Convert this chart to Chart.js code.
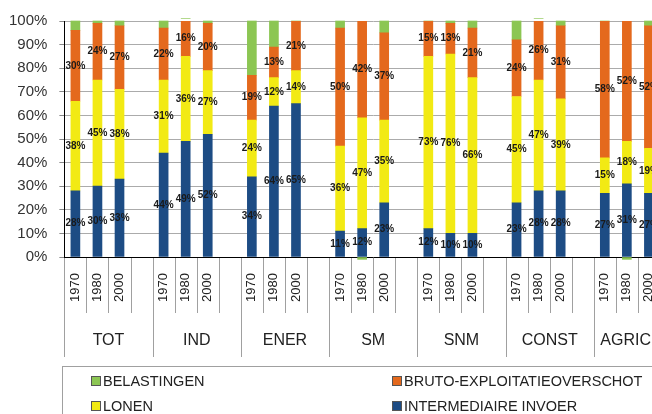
<!DOCTYPE html>
<html>
<head>
<meta charset="utf-8">
<script src="https://cdn.jsdelivr.net/npm/chart.js@4.4.1/dist/chart.umd.min.js"></script>
<style>
  html, body { margin: 0; padding: 0; background: #fff; width: 652px; height: 414px; overflow: hidden; }
  #wrap { position: relative; width: 700px; height: 414px; }
  #c { position: absolute; left: 0; top: 0; }
  #legend { position: absolute; left: 62px; top: 366px; width: 700px; height: 60px;
            border-top: 1px solid #a0a0a0; border-left: 1px solid #a0a0a0; box-sizing: border-box;
            font-family: 'Liberation Sans', Arial, sans-serif; font-size: 14.5px; color: #222; }
  .item { position: absolute; white-space: nowrap; line-height: 16px; }
  .sw { position: absolute; width: 8px; height: 8px; top: 3px; left: 0; border: 1px solid #555; }
  .lt { position: absolute; left: 12px; top: 0; }
</style>
</head>
<body>
<div id="wrap">
  <canvas id="c" width="700" height="414"></canvas>
  <div id="legend"></div>
</div>
<script>
// ---- data ----
const groups = ['TOT', 'IND', 'ENER', 'SM', 'SNM', 'CONST', 'AGRIC'];
const years = ['1970', '1980', '2000'];
// values per group, per year (group-major order), in %
const intermediaireInvoer = [28, 30, 33,  44, 49, 52,  34, 64, 65,  11, 12, 23,  12, 10, 10,  23, 28, 28,  27, 31, 27];
const lonen               = [38, 45, 38,  31, 36, 27,  24, 12, 14,  36, 47, 35,  73, 76, 66,  45, 47, 39,  15, 18, 19];
const brutoExploitatie    = [30, 24, 27,  22, 16, 20,  19, 13, 21,  50, 42, 37,  15, 13, 21,  24, 26, 31,  58, 52, 52];
const belastingen         = [ 4,  1,  2,   3,  0,  1,  23, 11,  0,   3, -1,  5,   0,  1,  3,   8,  0,  2,   0, -1,  2];
const yTicks = [0, 10, 20, 30, 40, 50, 60, 70, 80, 90, 100];

// build 4 slots per group (3 years + an empty slot)
const slotLabels = [];
groups.forEach(() => { years.forEach(y => slotLabels.push(y)); slotLabels.push(''); });
function toSlots(arr) {
  const out = [];
  groups.forEach((g, gi) => {
    years.forEach((y, yi) => out.push(arr[gi * 3 + yi]));
    out.push(null);
  });
  return out;
}

const FONT = "'Liberation Sans', Arial, sans-serif";
const VIEW_W = 652;
const series = [
  { label: 'INTERMEDIAIRE INVOER', data: intermediaireInvoer, color: '#1d4c84', showLabel: true },
  { label: 'LONEN', data: lonen, color: '#f2ea14', showLabel: true },
  { label: 'BRUTO-EXPLOITATIEOVERSCHOT', data: brutoExploitatie, color: '#e4691d', showLabel: true },
  { label: 'BELASTINGEN', data: belastingen, color: '#8cc653', showLabel: false }
];

const datasets = series.map(s => ({
  label: s.label,
  data: toSlots(s.data),
  backgroundColor: s.color,
  borderWidth: 0,
  barThickness: 9,
  clip: s.showLabel ? undefined : false,
  _showLabel: s.showLabel
}));

const xDecor = {
  id: 'xDecor',
  afterDraw(chart) {
    const ctx = chart.ctx;
    const xs = chart.scales.x;
    const base = chart.chartArea.bottom;
    ctx.save();
    // slot boundary lines
    ctx.strokeStyle = '#a0a0a0';
    ctx.lineWidth = 1;
    for (let i = 0; i <= slotLabels.length; i++) {
      const x = Math.round(xs.getPixelForValue(i - 0.5)) + 0.5;
      const len = (i % 4 === 0) ? 100 : 56;
      ctx.beginPath();
      ctx.moveTo(x, base + 1);
      ctx.lineTo(x, base + len);
      ctx.stroke();
    }
    // year labels (rotated)
    ctx.fillStyle = '#222';
    ctx.font = '13px ' + FONT;
    ctx.textAlign = 'right';
    ctx.textBaseline = 'middle';
    slotLabels.forEach((lab, i) => {
      if (!lab) return;
      const x = xs.getPixelForValue(i);
      ctx.save();
      ctx.translate(x, base + 16);
      ctx.rotate(-Math.PI / 2);
      ctx.fillText(lab, 0, 0);
      ctx.restore();
    });
    // group labels (kept inside the visible width)
    ctx.font = '16px ' + FONT;
    ctx.textAlign = 'center';
    groups.forEach((g, gi) => {
      let x = xs.getPixelForValue(gi * 4 + 1.5);
      const w = ctx.measureText(g).width;
      if (x + w / 2 > VIEW_W - 1) x = VIEW_W - 1 - w / 2;
      ctx.fillText(g, x, base + 84);
    });
    ctx.restore();
  }
};

const valueLabels = {
  id: 'valueLabels',
  afterDatasetsDraw(chart) {
    const ctx = chart.ctx;
    ctx.save();
    ctx.font = 'bold 10px ' + FONT;
    ctx.fillStyle = '#1a1a1a';
    ctx.textAlign = 'center';
    ctx.textBaseline = 'middle';
    chart.data.datasets.forEach((ds, di) => {
      if (!ds._showLabel) return;
      const meta = chart.getDatasetMeta(di);
      meta.data.forEach((el, i) => {
        const v = ds.data[i];
        if (v === null || v === undefined) return;
        const y = (Math.max(el.y, chart.chartArea.top) + el.base) / 2;
        ctx.fillText(v + '%', el.x, y);
      });
    });
    ctx.restore();
  }
};

new Chart(document.getElementById('c'), {
  type: 'bar',
  data: { labels: slotLabels, datasets },
  options: {
    responsive: false,
    animation: false,
    devicePixelRatio: 1,
    layout: { padding: { top: 17, bottom: 157, left: -3, right: 18 } },
    plugins: { legend: { display: false }, tooltip: { enabled: false } },
    scales: {
      x: { stacked: true, display: false },
      y: {
        stacked: true, min: 0, max: 100,
        afterBuildTicks: axis => { axis.ticks = yTicks.map(v => ({ value: v })); },
        ticks: { callback: v => v + '%', font: { size: 15, family: FONT }, color: '#333', padding: 12 },
        grid: { color: c => (c.tick && c.tick.value === 0) ? '#000' : '#ababab', tickLength: 5, tickColor: '#888', lineWidth: 1 },
        border: { color: '#000', width: 1 }
      }
    }
  },
  plugins: [xDecor, valueLabels]
});

// HTML legend
const legendOrder = ['BELASTINGEN', 'BRUTO-EXPLOITATIEOVERSCHOT', 'LONEN', 'INTERMEDIAIRE INVOER'];
const pos = [[28, 6], [329, 6], [28, 31], [329, 31]];
const leg = document.getElementById('legend');
legendOrder.forEach((name, k) => {
  const s = series.find(x => x.label === name);
  const d = document.createElement('div');
  d.className = 'item';
  d.style.left = pos[k][0] + 'px';
  d.style.top = pos[k][1] + 'px';
  d.innerHTML = '<span class="sw" style="background:' + s.color + '"></span><span class="lt"></span>';
  d.querySelector('.lt').textContent = s.label;
  leg.appendChild(d);
});
</script>
</body>
</html>
